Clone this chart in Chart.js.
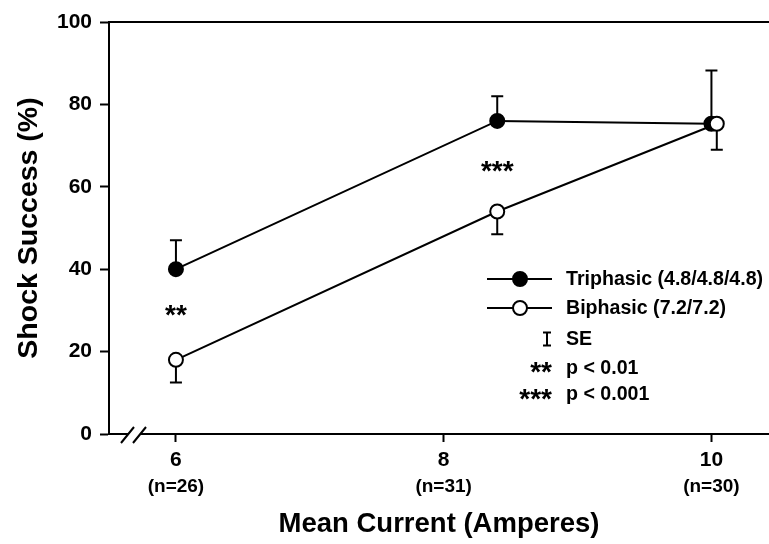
<!DOCTYPE html>
<html><head><meta charset="utf-8">
<script src="https://cdn.jsdelivr.net/npm/chart.js@4"></script>
<style>html,body{margin:0;padding:0;background:#fff;overflow:hidden}#wrap{width:769px;height:544px;position:relative}</style>
</head><body><div id="wrap"><canvas id="c" width="769" height="544"></canvas></div>
<script>
const triCurrent = [6, 8.4, 10.0];
const triSuccess = [40, 76, 75.3];
const triSEUpper = [47, 82, 88.2];
const biCurrent = [6, 8.4, 10.04];
const biSuccess = [18, 54, 75.3];
const biSELower = [12.5, 48.5, 69];
const xTickValues = [6, 8, 10];
const xTickCounts = ['(n=26)', '(n=31)', '(n=30)'];
const sigCurrent = [6, 8.4];
const sigLevel = [30, 65];
const sigMarks = ['**', '***'];
const legendLabels = ['Triphasic (4.8/4.8/4.8)', 'Biphasic (7.2/7.2)', 'SE', 'p < 0.01', 'p < 0.001'];

const FONT = '"Liberation Sans", Arial, Helvetica, sans-serif';

const extras = {
  id: 'extras',
  beforeDatasetsDraw(chart) {
    const {ctx, scales: {x, y}} = chart;
    ctx.save();
    ctx.strokeStyle = '#000';
    ctx.lineWidth = 2;
    const cap = 6;
    const bar = (px, y1, y2) => {
      ctx.beginPath();
      ctx.moveTo(px, y1); ctx.lineTo(px, y2);
      ctx.moveTo(px - cap, y2); ctx.lineTo(px + cap, y2);
      ctx.stroke();
    };
    triCurrent.forEach((c, i) => bar(x.getPixelForValue(c), y.getPixelForValue(triSuccess[i]), y.getPixelForValue(triSEUpper[i])));
    biCurrent.forEach((c, i) => bar(x.getPixelForValue(c), y.getPixelForValue(biSuccess[i]), y.getPixelForValue(biSELower[i])));
    ctx.restore();
  },
  afterDraw(chart) {
    const {ctx, chartArea: a, scales: {x, y}} = chart;
    ctx.save();
    ctx.strokeStyle = '#000';
    ctx.fillStyle = '#000';
    ctx.lineWidth = 2;
    // top frame line
    ctx.beginPath();
    ctx.moveTo(a.left - 1, a.top); ctx.lineTo(a.right, a.top);
    ctx.stroke();
    // axis break
    const by = a.bottom;
    ctx.fillStyle = '#fff';
    ctx.fillRect(a.left + 19.5, by - 2, 12, 4);
    ctx.beginPath();
    ctx.moveTo(a.left + 12, by + 9); ctx.lineTo(a.left + 25, by - 7);
    ctx.moveTo(a.left + 24, by + 9); ctx.lineTo(a.left + 37, by - 7);
    ctx.stroke();
    ctx.fillStyle = '#000';
    // n labels
    ctx.font = 'bold 19px ' + FONT;
    ctx.textAlign = 'center';
    ctx.textBaseline = 'middle';
    xTickValues.forEach((v, i) => ctx.fillText(xTickCounts[i], x.getPixelForValue(v), 487));
    // significance marks
    ctx.font = 'bold 28px ' + FONT;
    ctx.textBaseline = 'alphabetic';
    sigCurrent.forEach((c, i) => ctx.fillText(sigMarks[i], x.getPixelForValue(c), y.getPixelForValue(sigLevel[i]) + 13.5));
    // legend
    const rows = [279, 308, 339, 367.5, 394];
    const lx0 = 487, lx1 = 552, lmx = 520, tx = 566;
    ctx.lineWidth = 2;
    [0, 1].forEach(i => {
      ctx.beginPath(); ctx.moveTo(lx0, rows[i]); ctx.lineTo(lx1, rows[i]); ctx.stroke();
      ctx.beginPath(); ctx.arc(lmx, rows[i], 7, 0, Math.PI * 2);
      ctx.fillStyle = i === 0 ? '#000' : '#fff';
      ctx.fill(); ctx.stroke();
    });
    ctx.fillStyle = '#000';
    // SE glyph
    ctx.beginPath();
    ctx.moveTo(547, rows[2] - 6.5); ctx.lineTo(547, rows[2] + 6.5);
    ctx.moveTo(543, rows[2] - 6.5); ctx.lineTo(551, rows[2] - 6.5);
    ctx.moveTo(543, rows[2] + 6.5); ctx.lineTo(551, rows[2] + 6.5);
    ctx.stroke();
    ctx.font = 'bold 28px ' + FONT;
    ctx.textAlign = 'right';
    ctx.fillText(sigMarks[0], lx1, rows[3] + 13.5);
    ctx.fillText(sigMarks[1], lx1, rows[4] + 13.5);
    ctx.font = 'bold 19.6px ' + FONT;
    ctx.textAlign = 'left';
    ctx.textBaseline = 'middle';
    legendLabels.forEach((t, i) => ctx.fillText(t, tx, rows[i] + 1));
    ctx.restore();
  }
};

new Chart(document.getElementById('c'), {
  type: 'scatter',
  data: {
    datasets: [
      {
        label: legendLabels[0],
        data: triCurrent.map((c, i) => ({x: c, y: triSuccess[i]})),
        showLine: true, borderColor: '#000', borderWidth: 2,
        pointRadius: 7, pointBorderWidth: 2,
        pointBackgroundColor: '#000', pointBorderColor: '#000',
        order: 2
      },
      {
        label: legendLabels[1],
        data: biCurrent.map((c, i) => ({x: c, y: biSuccess[i]})),
        showLine: true, borderColor: '#000', borderWidth: 2,
        pointRadius: 7, pointBorderWidth: 2,
        pointBackgroundColor: '#fff', pointBorderColor: '#000',
        order: 1
      }
    ]
  },
  options: {
    responsive: false, animation: false, devicePixelRatio: 1,
    layout: {autoPadding: false, padding: {top: 22, right: 0, left: 0, bottom: 0}},
    plugins: {legend: {display: false}, tooltip: {enabled: false}},
    elements: {line: {tension: 0}},
    scales: {
      x: {
        type: 'linear', min: 5.5, max: 10.43,
        afterBuildTicks: s => { s.ticks = xTickValues.map(v => ({value: v})); },
        afterFit: s => { s.height = 110; s.paddingRight = 0; s.paddingLeft = 0; },
        ticks: {font: {family: FONT, size: 21, weight: 'bold'}, color: '#000', padding: 6, maxRotation: 0, autoSkip: false},
        grid: {drawOnChartArea: false, drawTicks: true, tickLength: 8, tickColor: '#000', tickWidth: 2},
        border: {display: true, color: '#000', width: 2},
        title: {display: true, text: 'Mean Current (Amperes)', color: '#000', font: {family: FONT, size: 27.5, weight: 'bold'}, padding: {top: 0, bottom: 3}}
      },
      y: {
        min: 0, max: 100,
        afterFit: s => { s.width = 109; s.paddingTop = 0; s.paddingBottom = 0; },
        ticks: {stepSize: 20, font: {family: FONT, size: 21, weight: 'bold'}, color: '#000', padding: 8},
        grid: {drawOnChartArea: false, drawTicks: true, tickLength: 9, tickColor: '#000', tickWidth: 2},
        border: {display: true, color: '#000', width: 2},
        title: {display: true, text: 'Shock Success (%)', color: '#000', font: {family: FONT, size: 28.5, weight: 'bold'}, padding: {top: 12, bottom: 0}}
      }
    }
  },
  plugins: [extras]
});
</script></body></html>
